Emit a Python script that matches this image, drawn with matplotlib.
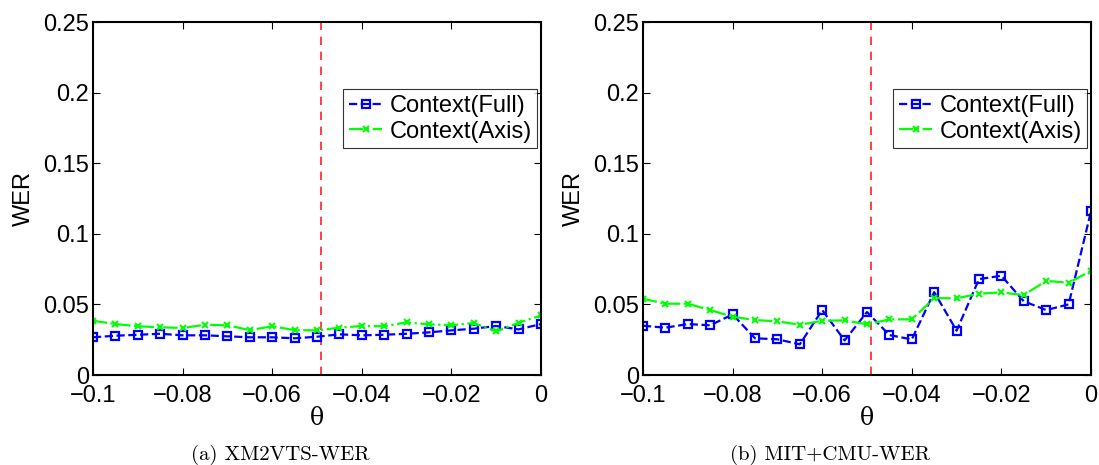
import numpy as np
import matplotlib
matplotlib.use('Agg')
import matplotlib.pyplot as plt

theta = np.linspace(-0.1, 0, 21)
threshold = -0.049

# XM2VTS
xm_full = [0.0267, 0.0278, 0.0285, 0.0292, 0.0281, 0.0281, 0.0274, 0.0267, 0.0267, 0.0260, 0.0271,
           0.0288, 0.0281, 0.0285, 0.0292, 0.0302, 0.0316, 0.0328, 0.0347, 0.0323, 0.0361]
xm_axis = [0.0384, 0.0361, 0.0345, 0.0338, 0.0333, 0.0356, 0.0352, 0.0318, 0.0345, 0.0318, 0.0316,
           0.0335, 0.0347, 0.0345, 0.0373, 0.0359, 0.0352, 0.0368, 0.0309, 0.0370, 0.0422]

# MIT+CMU
mit_full = [0.0349, 0.0335, 0.0361, 0.0352, 0.0429, 0.0260, 0.0253, 0.0217, 0.0460, 0.0245, 0.0446,
            0.0283, 0.0252, 0.0587, 0.0314, 0.0679, 0.0703, 0.0522, 0.0460, 0.0500, 0.1160]
mit_axis = [0.0540, 0.0505, 0.0505, 0.0460, 0.0413, 0.0389, 0.0380, 0.0356, 0.0384, 0.0387, 0.0359,
            0.0394, 0.0394, 0.0545, 0.0543, 0.0576, 0.0585, 0.0566, 0.0667, 0.0653, 0.0738]

captions = ['(a) XM2VTS-WER', '(b) MIT+CMU-WER']
xticks = [-0.1, -0.08, -0.06, -0.04, -0.02, 0]
xticklabels = ['\u22120.1', '\u22120.08', '\u22120.06', '\u22120.04', '\u22120.02', '0']
yticks = [0, 0.05, 0.1, 0.15, 0.2, 0.25]
yticklabels = ['0', '0.05', '0.1', '0.15', '0.2', '0.25']

plt.rcParams['font.family'] = ['Liberation Sans', 'DejaVu Sans']

fig = plt.figure(figsize=(10.99, 4.65), dpi=100)
lefts = [93 / 1099, 643 / 1099]
w = 448 / 1099
b = 1 - 375 / 465
h = 353 / 465
cap_x = [280 / 1099, 830 / 1099]

for i, (full, axis) in enumerate([(xm_full, xm_axis), (mit_full, mit_axis)]):
    ax = fig.add_axes([lefts[i], b, w, h])
    ax.axvline(threshold, color='#ff2020', linestyle=(0, (5, 4)), linewidth=1.2)
    ax.plot(theta, full, color='blue', linestyle='--', linewidth=1.6, marker='s',
            markersize=5.5, markerfacecolor='none', markeredgecolor='blue', markeredgewidth=1.6,
            label='Context(Full)')
    ax.plot(theta, axis, color=(0, 1, 0), linestyle='-.', linewidth=1.6, marker='x',
            markersize=4.5, markeredgewidth=1.5, label='Context(Axis)')
    ax.set_xlim(-0.1, 0)
    ax.set_ylim(0, 0.25)
    ax.set_xticks(xticks)
    ax.set_xticklabels(xticklabels)
    ax.set_yticks(yticks)
    ax.set_yticklabels(yticklabels)
    ax.tick_params(direction='in', top=True, right=True, labelsize=17, length=5, width=0.8)
    ax.tick_params(axis='x', pad=7)
    ax.tick_params(axis='y', pad=3)
    for s in ax.spines.values():
        s.set_linewidth(1.5)
    ax.set_ylabel('WER', fontsize=17, labelpad=6)
    ax.set_xlabel('\u03b8', fontsize=17, family='DejaVu Serif', labelpad=0)
    leg = ax.legend(loc='upper right', bbox_to_anchor=(0.992, 0.81), fontsize=17,
                    frameon=True, fancybox=False, edgecolor='black', borderpad=0.25,
                    handlelength=1.4, handletextpad=0.3, labelspacing=0.15, borderaxespad=0)
    leg.get_frame().set_linewidth(0.8)
    fig.text(cap_x[i], 1 - 455 / 465, captions[i], ha='center', va='center',
             fontsize=15, family='cmr10')

fig.savefig('out.png', dpi=100)
